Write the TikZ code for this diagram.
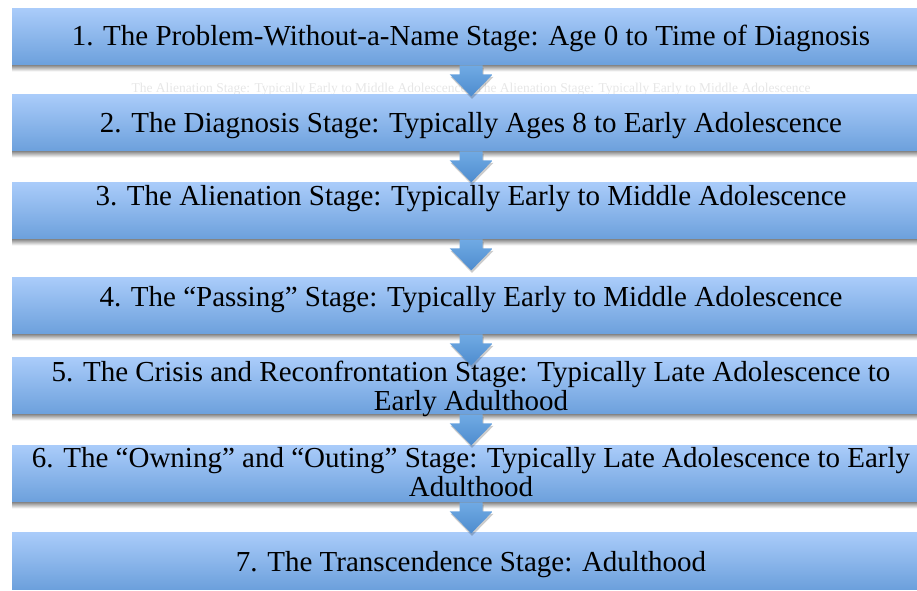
\documentclass[tikz,border=0pt]{standalone}
\usepackage{fontspec}
\setmainfont{Liberation Serif}
\newfontfamily\stagefont{Liberation Serif}
\definecolor{boxtop}{RGB}{170,204,250}
\definecolor{boxbot}{RGB}{108,160,220}
\definecolor{arrtop}{RGB}{112,170,228}
\definecolor{arrbot}{RGB}{78,140,206}
\definecolor{ghost}{RGB}{230,230,230}
\newcommand\flowarr[1]{%
  \path[flowarrow] (#1.south) ++(-11.5,0) -- ++(0,9) -- ++(-10,0) -- ++(21.5,22)
    -- ++(21.5,-22) -- ++(-10,0) -- ++(0,-9) -- cycle;}
\newcommand\boxshadow[1]{%
  \shade[top color=black!45, bottom color=white] (#1.south west) rectangle ++(918,6);}
\begin{document}
\begin{tikzpicture}[x=1pt,y=-1pt,
  stagebox/.style={rectangle, inner sep=0pt, minimum width=918pt, minimum height=57pt,
    anchor=north west, top color=boxtop, bottom color=boxbot, draw=none},
  stagetext/.style={font=\stagefont\fontsize{29pt}{30pt}\selectfont, anchor=base, inner sep=0pt, align=center},
  ghosttext/.style={font=\stagefont\fontsize{13.5pt}{14pt}\selectfont, text=ghost, anchor=base, inner sep=0pt},
  flowarrow/.style={top color=arrtop, bottom color=arrbot,
    preaction={fill=black, opacity=0.2, transform canvas={xshift=0.8pt, yshift=-2.5pt}}}
]
\useasboundingbox (0,0) rectangle (917,590);
\clip (0,0) rectangle (917,590);
% ghost text (behind box 2)
\node[ghosttext] (g1) at (299,92) {The Alienation Stage: Typically Early to Middle Adolescence};
\node[ghosttext] (g2) at (643,92) {The Alienation Stage: Typically Early to Middle Adolescence};
% boxes
\node[stagebox] (s1) at (12,8) {};
\node[stagebox] (s2) at (12,94) {};
\node[stagebox] (s3) at (12,182) {};
\node[stagebox] (s4) at (12,277) {};
\node[stagebox] (s5) at (12,357) {};
\node[stagebox] (s6) at (12,445) {};
\node[stagebox] (s7) at (12,532) {};
\boxshadow{s1}\boxshadow{s2}\boxshadow{s3}\boxshadow{s4}\boxshadow{s5}\boxshadow{s6}
% arrows
\flowarr{s1}\flowarr{s2}\flowarr{s3}\flowarr{s4}\flowarr{s5}\flowarr{s6}
% texts
\node[stagetext] (t1) at (471,45) {1. The Problem-Without-a-Name Stage: Age 0 to Time of Diagnosis};
\node[stagetext] (t2) at (471,132) {2. The Diagnosis Stage: Typically Ages 8 to Early Adolescence};
\node[stagetext] (t3) at (471,205) {3. The Alienation Stage: Typically Early to Middle Adolescence};
\node[stagetext] (t4) at (471,306) {4. The “Passing” Stage: Typically Early to Middle Adolescence};
\node[stagetext] (t5a) at (471,381) {5. The Crisis and Reconfrontation Stage: Typically Late Adolescence to};
\node[stagetext] (t5b) at (471,410) {Early Adulthood};
\node[stagetext] (t6a) at (471,467) {6. The “Owning” and “Outing” Stage: Typically Late Adolescence to Early};
\node[stagetext] (t6b) at (471,496) {Adulthood};
\node[stagetext] (t7) at (471,571) {7. The Transcendence Stage: Adulthood};
\end{tikzpicture}
\end{document}
